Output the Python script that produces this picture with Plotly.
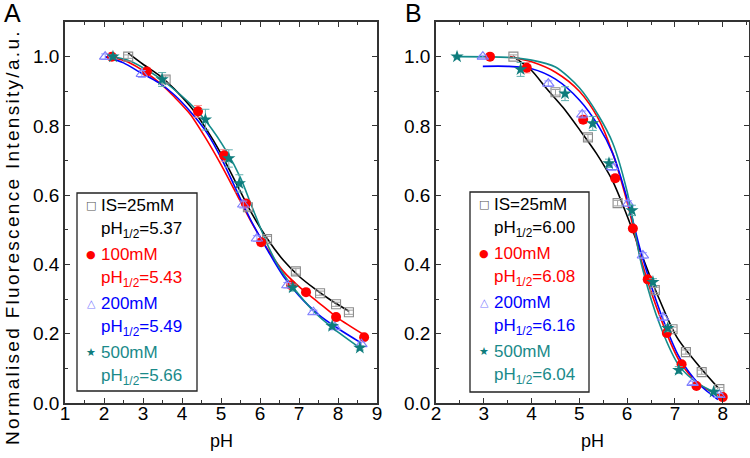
import plotly.graph_objects as go

FONT = "Liberation Sans, Arial, sans-serif"

# ---------------- Panel A data ----------------
a_black_x = [2.62, 3.58, 5.69, 6.18, 6.92, 7.54, 7.95, 8.28]
a_black_y = [1.0, 0.934, 0.565, 0.473, 0.38, 0.317, 0.285, 0.262]
a_black_e = [0.005, 0.01, 0.01, 0.008, 0.008, 0.006, 0.006, 0.006]

a_red_x = [2.2, 3.1, 4.41, 5.08, 5.64, 6.03, 6.8, 7.18, 7.95, 8.67]
a_red_y = [1.0, 0.957, 0.842, 0.715, 0.576, 0.464, 0.34, 0.32, 0.248, 0.19]
a_red_e = [0.005, 0.01, 0.017, 0.017, 0.01, 0.01, 0.008, 0.006, 0.006, 0.006]

a_blue_x = [2.03, 2.97, 5.57, 5.92, 6.7, 7.37, 7.92, 8.6]
a_blue_y = [1.0, 0.95, 0.573, 0.475, 0.34, 0.262, 0.219, 0.17]
a_blue_e = [0.008, 0.01, 0.01, 0.008, 0.008, 0.006, 0.006, 0.006]

a_teal_x = [2.23, 3.49, 4.6, 5.2, 5.47, 6.84, 7.85, 8.56]
a_teal_y = [1.0, 0.934, 0.818, 0.706, 0.634, 0.333, 0.222, 0.159]
a_teal_e = [0.005, 0.02, 0.03, 0.025, 0.025, 0.01, 0.008, 0.006]

# fitted curves
a_black_fx = [2.62, 3.0, 3.4, 3.8, 4.2, 4.6, 5.0, 5.4, 5.8, 6.2, 6.6, 7.0, 7.4, 7.8, 8.28]
a_black_fy = [1.01, 0.978, 0.947, 0.907, 0.858, 0.795, 0.72, 0.632, 0.545, 0.472, 0.412, 0.366, 0.33, 0.298, 0.265]
a_red_fx = [2.15, 2.6, 3.1, 3.5, 3.8, 4.2, 4.6, 5.0, 5.4, 5.8, 6.2, 6.6, 7.0, 7.5, 8.0, 8.65]
a_red_fy = [1.0, 0.985, 0.952, 0.917, 0.884, 0.835, 0.766, 0.688, 0.603, 0.518, 0.443, 0.38, 0.336, 0.29, 0.245, 0.198]
a_blue_fx = [2.03, 2.5, 2.92, 3.4, 3.8, 4.2, 4.64, 5.05, 5.4, 5.8, 6.2, 6.6, 7.0, 7.46, 8.0, 8.6]
a_blue_fy = [1.0, 0.982, 0.955, 0.925, 0.89, 0.843, 0.78, 0.697, 0.613, 0.52, 0.44, 0.366, 0.31, 0.259, 0.215, 0.173]
a_teal_fx = [2.2, 2.6, 3.0, 3.4, 3.77, 4.2, 4.64, 5.15, 5.5, 5.8, 6.2, 6.5, 6.85, 7.4, 7.87, 8.56]
a_teal_fy = [1.0, 0.99, 0.968, 0.94, 0.908, 0.865, 0.81, 0.725, 0.65, 0.565, 0.455, 0.39, 0.334, 0.262, 0.216, 0.159]

a_names = ["IS=25mM", "100mM", "200mM", "500mM"]
a_phhalf = ["5.37", "5.43", "5.49", "5.66"]

# ---------------- Panel B data ----------------
b_black_x = [3.62, 4.5, 5.18, 5.8, 6.58, 6.95, 7.23, 7.56, 7.93]
b_black_y = [1.0, 0.897, 0.767, 0.577, 0.326, 0.213, 0.147, 0.089, 0.04]
b_black_e = [0.005, 0.008, 0.008, 0.008, 0.008, 0.006, 0.006, 0.006, 0.005]

b_red_x = [3.13, 3.9, 5.08, 5.75, 6.12, 6.43, 6.83, 7.14, 7.45, 8.0]
b_red_y = [1.0, 0.968, 0.818, 0.649, 0.504, 0.357, 0.202, 0.112, 0.049, 0.017]
b_red_e = [0.004, 0.015, 0.01, 0.01, 0.008, 0.008, 0.008, 0.006, 0.005, 0.005]

b_blue_x = [2.98, 4.35, 5.06, 5.69, 6.02, 6.33, 6.75, 7.37, 7.93]
b_blue_y = [1.0, 0.922, 0.833, 0.681, 0.576, 0.426, 0.247, 0.058, 0.023]
b_blue_e = [0.004, 0.008, 0.01, 0.01, 0.008, 0.008, 0.008, 0.005, 0.005]

b_teal_x = [2.44, 3.77, 4.7, 5.28, 5.62, 6.1, 6.54, 6.85, 7.08, 7.81]
b_teal_y = [1.0, 0.963, 0.893, 0.807, 0.692, 0.556, 0.349, 0.216, 0.095, 0.032]
b_teal_e = [0.003, 0.02, 0.02, 0.02, 0.012, 0.015, 0.01, 0.01, 0.01, 0.005]

b_black_fx = [3.62, 4.0, 4.3, 4.66, 5.0, 5.36, 5.7, 6.0, 6.3, 6.62, 7.04, 7.52, 7.91]
b_black_fy = [1.0, 0.96, 0.91, 0.853, 0.79, 0.72, 0.64, 0.54, 0.43, 0.317, 0.19, 0.104, 0.043]
b_red_fx = [3.55, 4.0, 4.5, 5.0, 5.4, 5.7, 6.0, 6.3, 6.7, 7.1, 7.5, 7.95]
b_red_fy = [1.0, 0.985, 0.955, 0.9, 0.82, 0.72, 0.58, 0.41, 0.245, 0.12, 0.055, 0.02]
b_blue_fx = [2.98, 3.5, 4.0, 4.5, 5.0, 5.4, 5.7, 6.0, 6.3, 6.7, 7.1, 7.5, 7.9]
b_blue_fy = [0.972, 0.972, 0.965, 0.935, 0.875, 0.80, 0.72, 0.59, 0.43, 0.26, 0.13, 0.055, 0.01]
b_teal_fx = [2.44, 3.5, 4.0, 4.5, 5.0, 5.4, 5.7, 6.0, 6.3, 6.7, 7.1, 7.5, 7.8]
b_teal_fy = [1.0, 0.998, 0.99, 0.97, 0.91, 0.83, 0.75, 0.61, 0.40, 0.22, 0.105, 0.055, 0.033]

b_names = ["IS=25mM", "100mM", "200mM", "500mM"]
b_phhalf = ["6.00", "6.08", "6.16", "6.04"]

# ---------------- styles ----------------
TEXT_COLORS = ["#000000", "#ff0000", "#0000ff", "#1a8a8a"]
LINE_COLORS = ["#000000", "#ff0000", "#0000ff", "#148c8c"]
ERR_COLORS = ["#a0a0a0", "#ff9090", "#9a9aff", "#60b0b0"]
MARKERS = [
    dict(symbol="square-open", size=9, color="#8c8c8c", line=dict(width=1.1, color="#8c8c8c")),
    dict(symbol="circle", size=10, color="#ff0000", line=dict(width=0)),
    dict(symbol="triangle-up-open", size=10, color="#7c7cff", line=dict(width=1.1, color="#7c7cff")),
    dict(symbol="star", size=10, color="#0e7c7c", line=dict(width=0)),
]
LEG_GLYPHS = ["\u25a1", "\u25cf", "\u25b3", "\u2605"]
LEG_GLYPH_COLORS = ["#555555", "#ff0000", "#7c7cff", "#0e7c7c"]

W, H = 750, 458
ML, MR, MT, MB = 65, 1, 22, 55
PW, PH = W - ML - MR, H - MT - MB


def px(xp):
    return (xp - ML) / PW


def py(yp):
    return (H - MB - yp) / PH


fig = go.Figure()


def add_panel(xa, ya, pts, fits):
    for i, (fx, fy) in enumerate(fits):
        fig.add_trace(go.Scatter(
            x=fx, y=fy, mode="lines", xaxis=xa, yaxis=ya,
            line=dict(color=LINE_COLORS[i], width=1.6, shape="spline", smoothing=0.8),
            showlegend=False, hoverinfo="skip"))
    for i, (ptx, pty, pte) in enumerate(pts):
        fig.add_trace(go.Scatter(
            x=ptx, y=pty, mode="markers", xaxis=xa, yaxis=ya,
            marker=MARKERS[i], showlegend=False,
            error_y=dict(type="data", array=pte, visible=True,
                         color=ERR_COLORS[i], thickness=1, width=4)))


add_panel("x", "y",
          [(a_black_x, a_black_y, a_black_e), (a_red_x, a_red_y, a_red_e),
           (a_blue_x, a_blue_y, a_blue_e), (a_teal_x, a_teal_y, a_teal_e)],
          [(a_black_fx, a_black_fy), (a_red_fx, a_red_fy),
           (a_blue_fx, a_blue_fy), (a_teal_fx, a_teal_fy)])
add_panel("x2", "y2",
          [(b_black_x, b_black_y, b_black_e), (b_red_x, b_red_y, b_red_e),
           (b_blue_x, b_blue_y, b_blue_e), (b_teal_x, b_teal_y, b_teal_e)],
          [(b_black_fx, b_black_fy), (b_red_fx, b_red_fy),
           (b_blue_fx, b_blue_fy), (b_teal_fx, b_teal_fy)])

annotations = []
shapes = []


def add_legend(left, top, right, bottom, names, phs):
    shapes.append(dict(type="rect", xref="paper", yref="paper",
                       x0=px(left), x1=px(right), y0=py(bottom), y1=py(top),
                       line=dict(color="#222222", width=1.3), fillcolor="white", layer="above"))
    line_gap = 22
    entry_gap = 49
    for i in range(4):
        yc = top + 12 + i * entry_gap
        annotations.append(dict(text=LEG_GLYPHS[i], xref="paper", yref="paper",
                                x=px(left + 14), y=py(yc), xanchor="center", yanchor="middle",
                                showarrow=False,
                                font=dict(family="DejaVu Sans", size=11, color=LEG_GLYPH_COLORS[i])))
        annotations.append(dict(text=names[i], xref="paper", yref="paper",
                                x=px(left + 22), y=py(yc), xanchor="left", yanchor="middle",
                                showarrow=False,
                                font=dict(family=FONT, size=17, color=TEXT_COLORS[i])))
        annotations.append(dict(text=f"pH<sub>1/2</sub>={phs[i]}", xref="paper", yref="paper",
                                x=px(left + 22), y=py(yc + line_gap + 3), xanchor="left",
                                yanchor="middle", showarrow=False,
                                font=dict(family=FONT, size=17, color=TEXT_COLORS[i])))


add_legend(77, 193, 197, 391, a_names, a_phhalf)
add_legend(470, 192, 589, 392, b_names, b_phhalf)

AXCOL = "#333333"


def axis_common(**kw):
    d = dict(showline=True, linecolor=AXCOL, linewidth=1.5, mirror="allticks",
             ticks="inside", ticklen=5, tickwidth=1.2, tickcolor=AXCOL,
             showgrid=False, zeroline=False,
             tickfont=dict(family=FONT, size=19, color="#000000"))
    d.update(kw)
    return d


annotations += [
    dict(text='<span style="letter-spacing:2.3px">Normalised Fluorescence Intensity/a.u.</span>',
         xref="paper", yref="paper", x=px(12), y=py(237), xanchor="center", yanchor="middle",
         textangle=-90, showarrow=False, font=dict(family=FONT, size=19)),
    dict(text="pH", xref="paper", yref="paper", x=px(221), y=py(441),
         xanchor="center", yanchor="middle", showarrow=False, font=dict(family=FONT, size=18)),
    dict(text="pH", xref="paper", yref="paper", x=px(592), y=py(441),
         xanchor="center", yanchor="middle", showarrow=False, font=dict(family=FONT, size=18)),
    dict(text="A", xref="paper", yref="paper", x=px(12), y=py(13),
         xanchor="center", yanchor="middle", showarrow=False,
         font=dict(family=FONT, size=25)),
    dict(text="B", xref="paper", yref="paper", x=px(413), y=py(13),
         xanchor="center", yanchor="middle", showarrow=False,
         font=dict(family=FONT, size=25)),
]

fig.update_layout(
    width=W, height=H,
    margin=dict(l=ML, r=MR, t=MT, b=MB, autoexpand=False),
    paper_bgcolor="white", plot_bgcolor="white",
    font=dict(family=FONT, color="#000000"),
    showlegend=False,
    xaxis=axis_common(domain=[0, px(377)], range=[1, 9], dtick=1, tick0=1, ticklabelstandoff=-8,
                      minor=dict(ticks="inside", ticklen=3, dtick=0.5, tickcolor=AXCOL),
                      anchor="y"),
    yaxis=axis_common(domain=[0, 1], range=[0, 1.1], dtick=0.2, tick0=0, tickformat=".1f",
                      minor=dict(ticks="inside", ticklen=3, dtick=0.1, tickcolor=AXCOL),
                      anchor="x"),
    xaxis2=axis_common(domain=[px(436), 1], range=[2, 8.55], dtick=1, tick0=2, ticklabelstandoff=-8,
                       minor=dict(ticks="inside", ticklen=3, dtick=0.5, tickcolor=AXCOL),
                       anchor="y2"),
    yaxis2=axis_common(domain=[0, 1], range=[0, 1.1], dtick=0.2, tick0=0, tickformat=".1f",
                       minor=dict(ticks="inside", ticklen=3, dtick=0.1, tickcolor=AXCOL),
                       anchor="x2"),
    annotations=annotations,
    shapes=shapes,
)

# remove the browser's default page margin so the figure sits at the window corner
fig.write_html("out.html",
               config={"displayModeBar": False},
               post_script="document.body.style.margin='0';document.body.style.overflow='hidden';")
